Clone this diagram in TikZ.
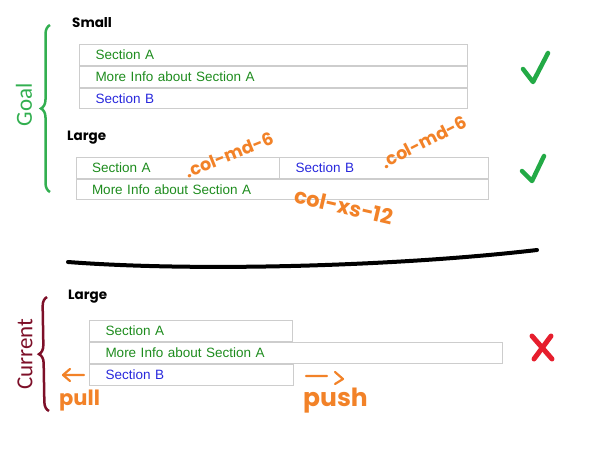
\documentclass[tikz,border=0pt]{standalone}
\usepackage{fontspec}
\setmainfont{Liberation Sans}
\newfontfamily\hand{Poppins}
\newfontfamily\carl{Carlito}
\usetikzlibrary{decorations.pathreplacing}
\definecolor{txtgreen}{RGB}{30,140,30}
\definecolor{txtblue}{RGB}{40,40,220}
\definecolor{cellgray}{RGB}{205,205,205}
\definecolor{goalgreen}{RGB}{50,175,80}
\definecolor{checkgreen}{RGB}{35,170,70}
\definecolor{curred}{RGB}{125,15,40}
\definecolor{xred}{RGB}{230,30,45}
\definecolor{anno}{RGB}{242,130,40}
\tikzset{
  cell/.style={draw=cellgray, line width=1pt, anchor=north west, inner xsep=16pt, inner ysep=0pt,
    align=left, font=\fontsize{13.5}{15}\selectfont},
  gtxt/.style={text=txtgreen},
  btxt/.style={text=txtblue},
  sizelabel/.style={font=\hand\bfseries\fontsize{13.5}{15}\selectfont, anchor=west, inner sep=0pt},
  annotext/.style={text=anno, font=\hand\bfseries\fontsize{17.5}{19}\selectfont, inner sep=0pt},
  sidelabel/.style={font=\carl\fontsize{23}{25}\selectfont, rotate=90, inner sep=0pt},
  sidebrace/.style={line width=2.5pt, decorate, decoration={brace, amplitude=9pt}},
  checkstroke/.style={line width=4.5pt, line cap=round, line join=round},
  handarrow/.style={anno, line width=2.2pt, line cap=round, line join=round}
}
\begin{document}
\begin{tikzpicture}[x=1pt,y=-1pt]
\useasboundingbox (0,0) rectangle (592,455);

% Goal section
\node[sizelabel] (small) at (72,23) {Small};
\node[cell, gtxt, minimum width=388pt, text width=356pt, minimum height=21pt] (s1) at (79,44) {Section A};
\node[cell, gtxt, minimum width=388pt, text width=356pt, minimum height=21pt] (s2) at (79,66) {More Info about Section A};
\node[cell, btxt, minimum width=388pt, text width=356pt, minimum height=20pt] (s3) at (79,88) {Section B};

\node[sizelabel] (large1) at (67,138) {Large};
\node[cell, gtxt, minimum width=203.5pt, text width=171.5pt, minimum height=21pt] (g1) at (75.5,157) {Section A};
\node[cell, btxt, minimum width=209pt, text width=177pt, minimum height=21pt] (g2) at (279,157) {Section B};
\node[cell, gtxt, minimum width=412.5pt, text width=380.5pt, minimum height=20pt] (g3) at (75.5,179) {More Info about Section A};

\draw[goalgreen, sidebrace] (50,192) -- (50,25);
\node[sidelabel, goalgreen] (goal) at (24,105) {Goal};

\draw[checkgreen, checkstroke] (523,69) -- (533,82) -- (548,53);
\draw[checkgreen, checkstroke] (522,171) -- (532,181) -- (544,156);

\node[annotext, rotate=22] (md1) at (229,155) {.col-md-6};
\node[annotext, rotate=27] (md2) at (424,142) {.col-md-6};
\node[annotext, font=\hand\bfseries\fontsize{21}{23}\selectfont, rotate=-13] (xs) at (344,206) {col-xs-12};

% divider
\draw[line width=4pt, line cap=round] (68,262) .. controls (200,272) and (400,266) .. (537,250);

% Current section
\node[sizelabel] (large2) at (68,297) {Large};
\node[cell, gtxt, minimum width=203pt, text width=171pt, minimum height=21pt] (c1) at (89,320) {Section A};
\node[cell, gtxt, minimum width=413pt, text width=381pt, minimum height=21pt] (c2) at (89,342) {More Info about Section A};
\node[cell, btxt, minimum width=204pt, text width=172pt, minimum height=21pt] (c3) at (89,364) {Section B};

\draw[curred, sidebrace] (49,411) -- (47,297);
\node[sidelabel, curred] (current) at (25,354) {Current};

\draw[xred, line width=5pt, line cap=round] (532,336) -- (552,359);
\draw[xred, line width=5pt, line cap=round] (551,336) -- (534,359);

\coordinate (pullS) at (84,375);
\coordinate (pullE) at (63,375);
\draw[handarrow] (pullS) -- (pullE) (70,369) -- (pullE) -- (70,381);
\node[annotext, font=\hand\bfseries\fontsize{21}{23}\selectfont, anchor=west] (pull) at (59,401) {pull};

\coordinate (pushS) at (306,376);
\coordinate (pushE) at (343,379);
\draw[handarrow] (pushS) -- (327,376) (335,372) -- (pushE) -- (335,384);
\node[annotext, font=\hand\bfseries\fontsize{25}{27}\selectfont, anchor=west] (push) at (303,401) {push};
\end{tikzpicture}
\end{document}
